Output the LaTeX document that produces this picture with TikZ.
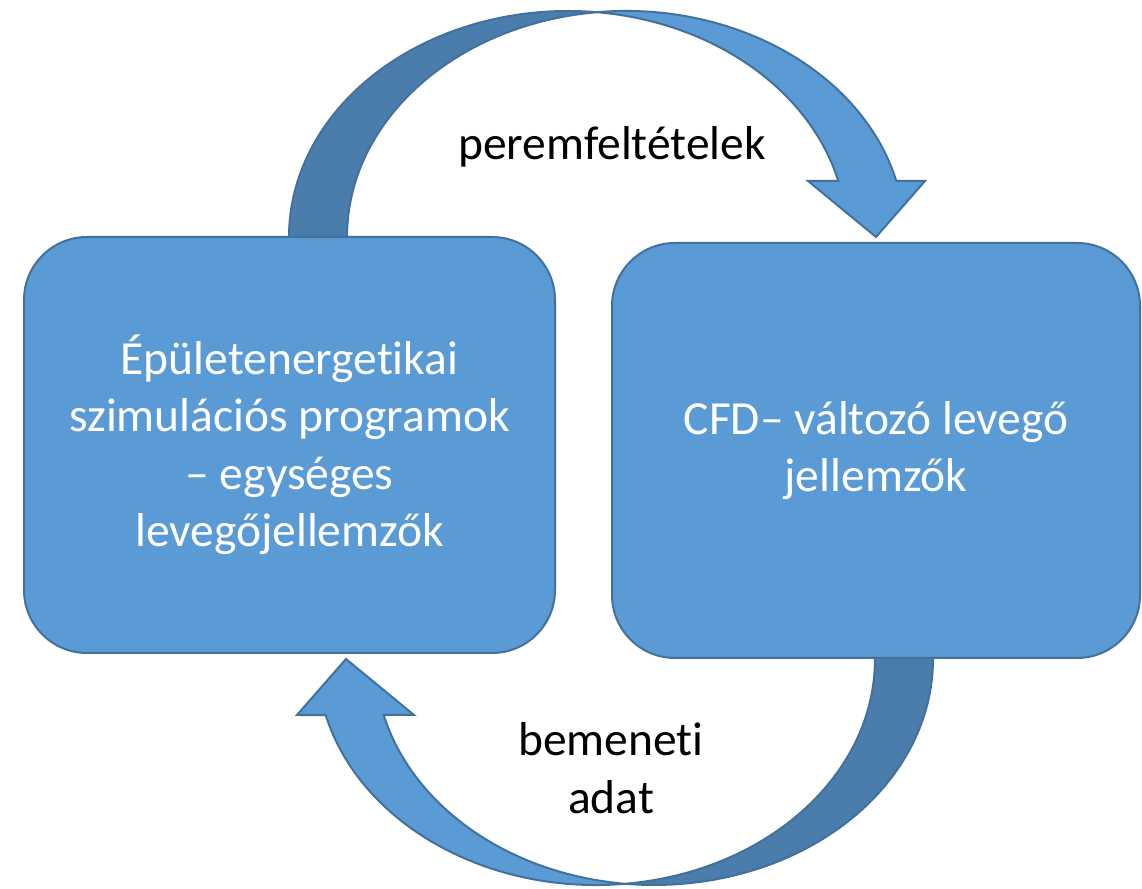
\documentclass[tikz,border=0pt]{standalone}
\usepackage{fontspec}
\setmainfont{Carlito}[RawFeature={-liga;-clig;-dlig;-calt}]
\definecolor{boxfill}{HTML}{5B9BD5}
\definecolor{boxline}{HTML}{41719C}
\definecolor{darkband}{HTML}{4A7DAB}
\tikzset{
  bigfont/.style={font=\fontsize{47.5}{57.5}\selectfont},
  box/.style={draw=boxline, line width=2pt, fill=boxfill, rounded corners=63pt,
    text=white, align=center, inner sep=0pt, bigfont},
  label/.style={text=black, align=center, bigfont},
  band/.style={draw=boxline, line width=2pt, line join=miter},
  pics/curvearrow/.style={code={
    \path[band, fill=darkband] (289,645) -- (289,651)
      arc[start angle=180, end angle=84.03, x radius=279, y radius=226]
      arc[start angle=95.97, end angle=180, x radius=279, y radius=226]
      -- (347,645) -- cycle;
    \path[band, fill=boxfill] (597,875.8)
      arc[start angle=95.97, end angle=14.35, x radius=279, y radius=226]
      -- (925,707) -- (876,651) -- (808,707) -- (838.3,707)
      arc[start angle=14.35, end angle=84.03, x radius=279, y radius=226]
      -- cycle;
  }}
}
\begin{document}
\begin{tikzpicture}[x=1pt,y=1pt]
\useasboundingbox (0,0) rectangle (1142,888);
\pic at (0,0) {curvearrow};
\pic[rotate=180] at (1222,880) {curvearrow};
\node[box, minimum width=531pt, minimum height=416pt] (epulet) at (289.5,443)
  {Épületenergetikai\\szimulációs programok\\– egységes\\levegőjellemzők};
\node[box, minimum width=528pt, minimum height=415pt] (cfd) at (876,437.5)
  {CFD– változó levegő\\jellemzők};
\node[label] (lab1) at (612,741) {peremfeltételek};
\node[label] (lab2) at (611,120) {bemeneti\\adat};
\end{tikzpicture}
\end{document}
